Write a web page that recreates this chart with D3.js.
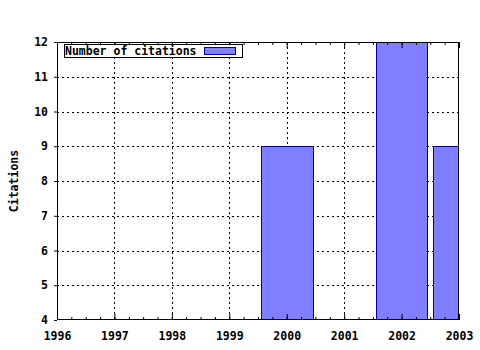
<!DOCTYPE html>
<html>
<head>
<meta charset="utf-8">
<script src="https://cdn.jsdelivr.net/npm/d3@7.9.0/dist/d3.min.js"></script>
<style>
  body { margin: 0; background: #fff; }
  text { font-family: 'DejaVu Sans Mono', monospace; font-weight: bold; font-size: 11.5px; fill: #000; }
</style>
</head>
<body>
<div id="chart"></div>
<script>
const years = [2000, 2002, 2003];
const citations = [9, 12, 9];
const xTicks = [1996, 1997, 1998, 1999, 2000, 2001, 2002, 2003];
const yTicks = [4, 5, 6, 7, 8, 9, 10, 11, 12];
const seriesName = 'Number of citations';

const width = 480;
const height = 350;
const margin = { top: 42, right: 21, bottom: 30, left: 57 };

const svg = d3.select('#chart')
  .append('svg')
  .attr('width', width)
  .attr('height', height);

const xScale = d3.scaleLinear()
  .domain([1996, 2003])
  .range([margin.left, width - margin.right]);

const yScale = d3.scaleLinear()
  .domain([4, 12])
  .range([height - margin.bottom, margin.top]);

// clip for bars
svg.append('clipPath').attr('id', 'plot')
  .append('rect')
  .attr('x', margin.left)
  .attr('y', margin.top)
  .attr('width', width - margin.left - margin.right)
  .attr('height', height - margin.top - margin.bottom);

// dotted grid
const grid = svg.append('g')
  .attr('stroke', '#000')
  .attr('stroke-width', 1)
  .attr('stroke-dasharray', '2,3')
  .attr('shape-rendering', 'crispEdges');

grid.selectAll('line.v')
  .data(xTicks.slice(1, -1))
  .join('line')
  .attr('class', 'v')
  .attr('x1', (d) => Math.round(xScale(d)) + 0.5)
  .attr('x2', (d) => Math.round(xScale(d)) + 0.5)
  .attr('y1', margin.top)
  .attr('y2', height - margin.bottom);

grid.selectAll('line.h')
  .data(yTicks.slice(1, -1))
  .join('line')
  .attr('class', 'h')
  .attr('x1', margin.left)
  .attr('x2', width - margin.right)
  .attr('y1', (d) => Math.round(yScale(d)) + 0.5)
  .attr('y2', (d) => Math.round(yScale(d)) + 0.5);

// bars
const data = years.map((y, i) => ({ year: y, value: citations[i] }));
const barWidth = 0.9;

svg.append('g')
  .attr('clip-path', 'url(#plot)')
  .selectAll('rect')
  .data(data)
  .join('rect')
  .attr('x', (d) => Math.round(xScale(d.year - barWidth / 2)) + 0.5)
  .attr('y', (d) => Math.round(yScale(d.value)) + 0.5)
  .attr('width', (d) => Math.round(xScale(d.year + barWidth / 2)) - Math.round(xScale(d.year - barWidth / 2)))
  .attr('height', (d) => Math.round(yScale(0)) - Math.round(yScale(d.value)))
  .attr('fill', '#7f7fff')
  .attr('stroke', '#0000a8')
  .attr('stroke-width', 1);

// axes
const minorTicks = d3.range(1996, 2003.001, 0.25);

const xBottom = d3.axisBottom(xScale).tickValues(xTicks).tickFormat(d3.format('d')).tickSize(-6).tickPadding(12);
const xBottomMinor = d3.axisBottom(xScale).tickValues(minorTicks).tickFormat('').tickSize(-3);
const xTop = d3.axisTop(xScale).tickValues(xTicks).tickFormat('').tickSize(-6);
const xTopMinor = d3.axisTop(xScale).tickValues(minorTicks).tickFormat('').tickSize(-3);
const yLeft = d3.axisLeft(yScale).tickValues(yTicks).tickFormat(d3.format('d')).tickSize(3).tickPadding(6);

function styleAxis(g) {
  g.select('.domain').remove();
  g.selectAll('.tick line').attr('stroke', '#000');
  g.selectAll('.tick text')
    .attr('font-family', null)
    .attr('font-size', null);
}

svg.append('g')
  .attr('transform', `translate(0, ${height - margin.bottom})`)
  .call(xBottom).call(styleAxis);
svg.append('g')
  .attr('transform', `translate(0, ${height - margin.bottom})`)
  .call(xBottomMinor).call(styleAxis);
svg.append('g')
  .attr('transform', `translate(0, ${margin.top})`)
  .call(xTop).call(styleAxis);
svg.append('g')
  .attr('transform', `translate(0, ${margin.top})`)
  .call(xTopMinor).call(styleAxis);
svg.append('g')
  .attr('transform', `translate(${margin.left}, 0)`)
  .call(yLeft).call(styleAxis);

// border
svg.append('rect')
  .attr('x', margin.left + 0.5)
  .attr('y', margin.top + 0.5)
  .attr('width', width - margin.left - margin.right - 1)
  .attr('height', height - margin.top - margin.bottom - 1)
  .attr('fill', 'none')
  .attr('stroke', '#000')
  .attr('stroke-width', 1);

// y label
svg.append('text')
  .attr('transform', `translate(18, ${(margin.top + height - margin.bottom) / 2}) rotate(-90)`)
  .attr('text-anchor', 'middle')
  .text('Citations');

// legend
const legend = svg.append('g').attr('transform', 'translate(64, 44)');
legend.append('rect')
  .attr('x', 0.5).attr('y', 0.5)
  .attr('width', 178).attr('height', 13)
  .attr('fill', '#fff')
  .attr('stroke', '#000');
legend.append('text')
  .attr('x', 1)
  .attr('y', 11)
  .text(seriesName);
legend.append('rect')
  .attr('x', 140.5).attr('y', 3.5)
  .attr('width', 31).attr('height', 7)
  .attr('fill', '#7f7fff')
  .attr('stroke', '#0000a8');
</script>
</body>
</html>
